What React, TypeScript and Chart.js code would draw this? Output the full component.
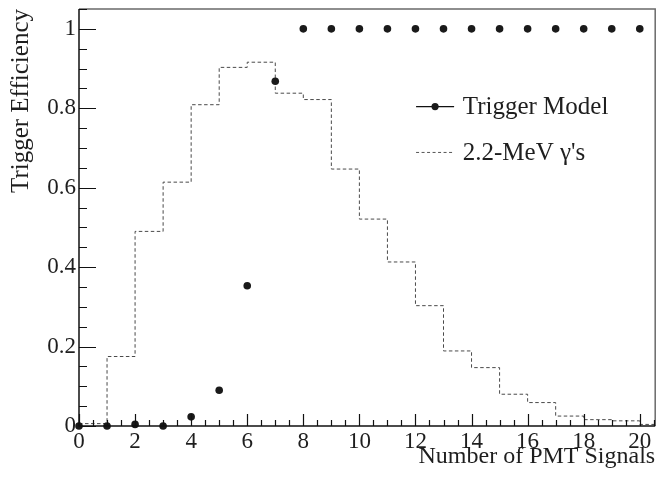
import React, { useEffect, useRef } from 'react';
import { Chart, registerables } from 'chart.js';

Chart.register(...registerables);

// Trigger model efficiency at each number of PMT signals
const signalCounts = [0, 1, 2, 3, 4, 5, 6, 7, 8, 9, 10, 11, 12, 13, 14, 15, 16, 17, 18, 19, 20];
const triggerEfficiency = [0, 0, 0.004, 0, 0.023, 0.09, 0.353, 0.868, 1, 1, 1, 1, 1, 1, 1, 1, 1, 1, 1, 1, 1];

// 2.2-MeV gamma histogram: bin edges and bin contents
const gammaBinEdges = [0, 1, 2, 3, 4, 5, 6, 7, 8, 9, 10, 11, 12, 13, 14, 15, 16, 17, 18, 19, 20, 21];
const gammaFraction = [0.006, 0.175, 0.49, 0.614, 0.809, 0.903, 0.916, 0.838, 0.822, 0.647, 0.521, 0.413, 0.303, 0.189, 0.147, 0.08, 0.059, 0.025, 0.016, 0.013, 0.004];

const seriesLabels = ['Trigger Model', "2.2-MeV \u03b3's"];
const xTitle = 'Number of PMT Signals';
const yTitle = 'Trigger Efficiency';

const X_MIN = 0;
const X_MAX = 20.55;
const Y_MIN = 0;
const Y_MAX = 1.05;

const FONT = "'Liberation Serif', 'Times New Roman', serif";
const TEXT = '#1e1e1e';

const framePlugin = {
  id: 'rootFrame',
  afterDatasetsDraw(chart: any) {
    const { ctx, chartArea, scales } = chart;
    const { left, right, top, bottom } = chartArea;
    const x = scales.x;
    const y = scales.y;
    ctx.save();
    ctx.strokeStyle = '#6a6a6a';
    ctx.lineWidth = 1.5;
    ctx.beginPath();
    ctx.moveTo(left, top);
    ctx.lineTo(right, top);
    ctx.lineTo(right, bottom);
    ctx.stroke();

    ctx.strokeStyle = '#111';
    ctx.lineWidth = 1.5;
    ctx.beginPath();
    ctx.moveTo(left, top);
    ctx.lineTo(left, bottom);
    ctx.lineTo(right, bottom);
    ctx.stroke();

    ctx.lineWidth = 1.2;
    ctx.beginPath();
    for (let k = 0; k * 0.5 <= x.max + 1e-9; k++) {
      const v = k * 0.5;
      const px = Math.round(x.getPixelForValue(v)) + 0.5;
      const len = k % 4 === 0 ? 12 : 6;
      ctx.moveTo(px, bottom);
      ctx.lineTo(px, bottom - len);
    }
    for (let k = 0; k * 0.05 <= y.max + 1e-9; k++) {
      const v = k * 0.05;
      const py = Math.round(y.getPixelForValue(v)) + 0.5;
      const len = k % 4 === 0 ? 17 : 8;
      ctx.moveTo(left, py);
      ctx.lineTo(left + len, py);
    }
    ctx.stroke();
    ctx.restore();
  },
};

const legendPlugin = {
  id: 'rootLegend',
  afterDraw(chart: any) {
    const { ctx, chartArea } = chart;
    const { left, right, top, bottom } = chartArea;
    const w = right - left;
    const h = bottom - top;
    const x0 = left + 0.585 * w;
    const x1 = left + 0.651 * w;
    const tx = left + 0.666 * w;
    const rows = [top + 0.234 * h, top + 0.344 * h];
    const ds = chart.data.datasets;
    ctx.save();
    ctx.strokeStyle = '#111';
    ctx.lineWidth = 1.2;
    ctx.setLineDash([]);
    ctx.beginPath();
    ctx.moveTo(x0, rows[0]);
    ctx.lineTo(x1, rows[0]);
    ctx.stroke();
    ctx.fillStyle = '#1a1a1a';
    ctx.beginPath();
    ctx.arc((x0 + x1) / 2, rows[0], 3.6, 0, Math.PI * 2);
    ctx.fill();
    ctx.strokeStyle = '#555';
    ctx.lineWidth = 1;
    ctx.setLineDash([3, 2.5]);
    ctx.beginPath();
    ctx.moveTo(x0, rows[1]);
    ctx.lineTo(x1 - 2, rows[1]);
    ctx.stroke();
    ctx.setLineDash([]);
    ctx.fillStyle = TEXT;
    ctx.font = `25px ${FONT}`;
    ctx.textAlign = 'left';
    ctx.textBaseline = 'middle';
    ctx.fillText(ds[0].label, tx, rows[0] + 1);
    ctx.fillText(ds[1].label, tx, rows[1] + 1);
    ctx.restore();
  },
};

export default function App() {
  const canvasRef = useRef<HTMLCanvasElement | null>(null);

  useEffect(() => {
    document.body.style.margin = '0';
    const canvas = canvasRef.current;
    if (!canvas) return;

    const triggerData = signalCounts.map((n, i) => ({ x: n, y: triggerEfficiency[i] }));
    const gammaData = gammaBinEdges.map((e, i) => ({
      x: e,
      y: gammaFraction[Math.min(i, gammaFraction.length - 1)],
    }));

    const fmt = (v: number) => String(Number(v.toFixed(2)));

    const chart = new Chart(canvas, {
      type: 'scatter',
      data: {
        datasets: [
          {
            label: seriesLabels[0],
            data: triggerData,
            showLine: false,
            clip: false,
            pointRadius: 3.8,
            pointHoverRadius: 3.8,
            pointBackgroundColor: '#1a1a1a',
            pointBorderWidth: 0,
            borderColor: '#1a1a1a',
          },
          {
            label: seriesLabels[1],
            data: gammaData,
            showLine: true,
            stepped: 'before',
            borderColor: '#4a4a4a',
            borderWidth: 1,
            borderDash: [3.5, 2.5],
            pointRadius: 0,
            fill: false,
          },
        ],
      },
      options: {
        responsive: false,
        animation: false,
        events: [],
        layout: { padding: { left: 0, right: 3, top: 9, bottom: 0 } },
        plugins: {
          legend: { display: false },
          tooltip: { enabled: false },
        },
        scales: {
          x: {
            type: 'linear',
            min: X_MIN,
            max: X_MAX,
            grid: { display: false, drawTicks: false },
            border: { display: false },
            afterFit: (s: any) => { s.height = 52; s.paddingLeft = 0; s.paddingRight = 0; },
            ticks: {
              stepSize: 2,
              includeBounds: false,
              autoSkip: false,
              maxRotation: 0,
              padding: 2,
              color: TEXT,
              font: { family: FONT, size: 23 },
              callback: (v: any) => fmt(Number(v)),
            },
            title: {
              display: true,
              text: xTitle,
              align: 'end',
              color: TEXT,
              font: { family: FONT, size: 24 },
              padding: { top: 0, bottom: 7 },
            },
          },
          y: {
            type: 'linear',
            min: Y_MIN,
            max: Y_MAX,
            grid: { display: false, drawTicks: false },
            border: { display: false },
            afterFit: (s: any) => { s.width = 79; s.paddingTop = 0; s.paddingBottom = 0; },
            ticks: {
              stepSize: 0.2,
              includeBounds: false,
              padding: 3,
              color: TEXT,
              font: { family: FONT, size: 23 },
              callback: (v: any) => fmt(Number(v)),
            },
            title: {
              display: true,
              text: yTitle,
              align: 'end',
              color: TEXT,
              font: { family: FONT, size: 25 },
              padding: { top: 6, bottom: 0 },
            },
          },
        },
      },
      plugins: [framePlugin, legendPlugin],
    } as any);

    return () => chart.destroy();
  }, []);

  return (
    <div style={{ width: 659, height: 478, background: '#fff' }}>
      <canvas ref={canvasRef} width={659} height={478} style={{ display: 'block' }} />
    </div>
  );
}
